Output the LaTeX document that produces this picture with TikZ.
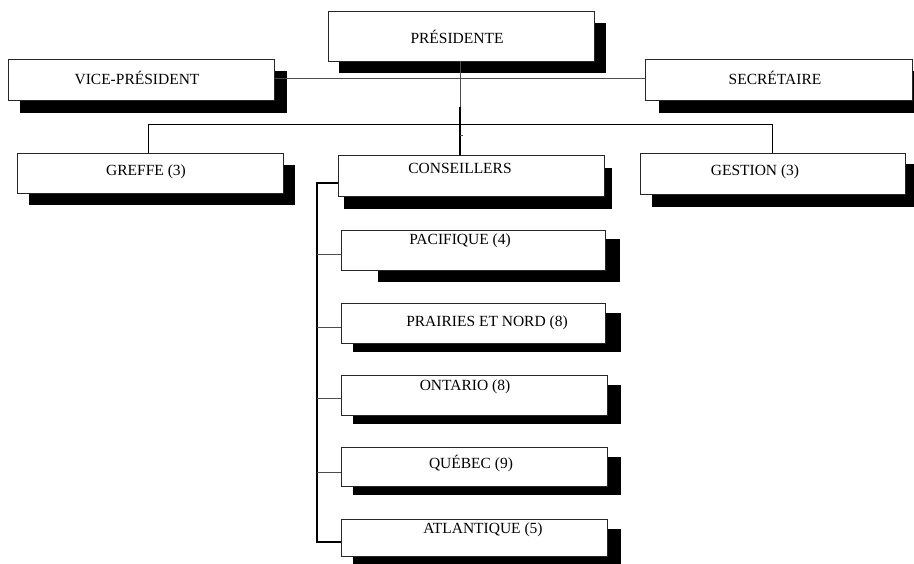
\documentclass[tikz,border=0pt]{standalone}
\usepackage{fontspec}
\setmainfont{Liberation Serif}
\begin{document}
\begin{tikzpicture}[x=1pt,y=-1pt,
  box/.style={draw=black!85, fill=white, line width=0.8pt, inner sep=0pt, anchor=north west},
  shad/.style={fill=black},
  lbl/.style={font=\fontsize{15.5}{18}\selectfont, inner sep=0pt, text=black},
  thin/.style={draw=black!70, line width=0.8pt},
  thick/.style={draw=black, line width=1.6pt},
  conn/.style={draw=black, line width=0.9pt}]
\useasboundingbox (0,0) rectangle (914,563);
\clip (0,0) rectangle (914,563);
% shadows
\fill[shad] (339,23) rectangle (606,73);
\fill[shad] (20,71) rectangle (287,113);
\fill[shad] (659,71) rectangle (925,113);
\fill[shad] (29,165) rectangle (295,205);
\fill[shad] (652,164) rectangle (918,207);
\fill[shad] (344,168) rectangle (612,209);
\fill[shad] (378,239) rectangle (620,282);
\fill[shad] (353,313) rectangle (621,352);
\fill[shad] (353,385) rectangle (621,424);
\fill[shad] (353,457) rectangle (621,495);
\fill[shad] (353,529) rectangle (621,570);
% junction coordinates
\coordinate (ptop) at (460,61);
\coordinate (jmid) at (460,107);
\coordinate (jh) at (460,124);
\coordinate (ctop) at (460,155);
\coordinate (tick) at (463,135);
\coordinate (gl) at (148,124);
\coordinate (gr) at (772,124);
\coordinate (b0) at (317,183);
\coordinate (b1) at (317,254);
\coordinate (b2) at (317,327);
\coordinate (b3) at (317,398);
\coordinate (b4) at (317,472);
\coordinate (b5) at (317,542);
% boxes
\node[box, minimum width=266pt, minimum height=50pt] (pres) at (328,11) {};
\node[box, minimum width=266pt, minimum height=41pt] (vp) at (8,59) {};
\node[box, minimum width=267pt, minimum height=41pt] (sec) at (645,59) {};
\node[box, minimum width=266pt, minimum height=40pt] (gref) at (17,153) {};
\node[box, minimum width=265pt, minimum height=41pt] (gest) at (640,153) {};
\node[box, minimum width=266pt, minimum height=41pt] (cons) at (338,155) {};
\node[box, minimum width=264pt, minimum height=40pt] (pac) at (341,230) {};
\node[box, minimum width=264pt, minimum height=40pt] (prai) at (341,303) {};
\node[box, minimum width=266pt, minimum height=40pt] (ont) at (341,375) {};
\node[box, minimum width=266pt, minimum height=39pt] (que) at (341,447) {};
\node[box, minimum width=266pt, minimum height=37pt] (atl) at (341,519) {};
% connectors
\draw[thin] (ptop) -- (ctop);
\draw[thick] (jmid) -- (ctop);
\draw[thin] (tick -| ctop) -- (tick);
\draw[thin] (vp.east |- 0,78) -- (sec.west |- 0,78);
\draw[conn] (gref.north -| gl) -- (gl) -- (gr) -- (gest.north -| gr);
\draw[thick] (cons.west |- b0) -- (b0) -- (b5) -- (atl.west |- b5);
\draw[thin] (b1) -- (pac.west |- b1);
\draw[thin] (b2) -- (prai.west |- b2);
\draw[thin] (b3) -- (ont.west |- b3);
\draw[thin] (b4) -- (que.west |- b4);
% labels
\node[lbl] (tpres) at (457,37) {PRÉSIDENTE};
\node[lbl] (tvp) at (137,78) {VICE-PRÉSIDENT};
\node[lbl] (tsec) at (775,78) {SECRÉTAIRE};
\node[lbl] (tgref) at (146,172) {GREFFE (3)};
\node[lbl] (tgest) at (755,172) {GESTION (3)};
\node[lbl] (tcons) at (460,168) {CONSEILLERS};
\node[lbl] (tpac) at (460,241) {PACIFIQUE (4)};
\node[lbl] (tprai) at (487,323) {PRAIRIES ET NORD (8)};
\node[lbl] (tont) at (465,387) {ONTARIO (8)};
\node[lbl] (tque) at (471,463) {QUÉBEC (9)};
\node[lbl] (tatl) at (483,530) {ATLANTIQUE (5)};
\end{tikzpicture}
\end{document}
